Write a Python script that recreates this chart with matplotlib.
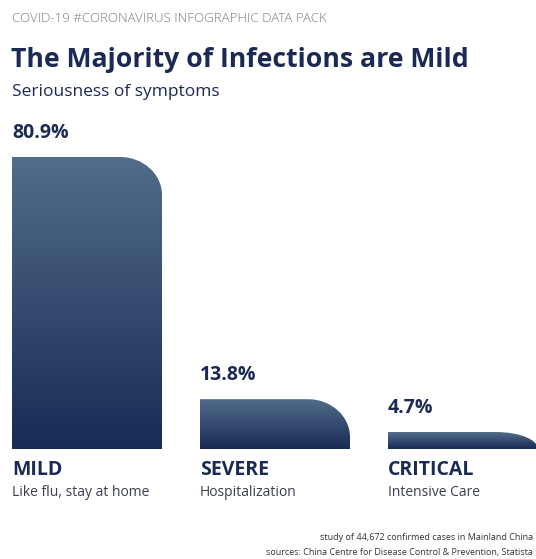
import numpy as np
import matplotlib.pyplot as plt
from matplotlib.path import Path
from matplotlib.patches import PathPatch
from matplotlib.colors import LinearSegmentedColormap

categories = ['MILD', 'SEVERE', 'CRITICAL']
descriptions = ['Like flu, stay at home', 'Hospitalization', 'Intensive Care']
shares = [80.9, 13.8, 4.7]

NAVY = '#1b2a55'
W, H = 536, 559
plt.rcParams['font.family'] = ['Open Sans', 'DejaVu Sans']

fig = plt.figure(figsize=(W / 100, H / 100), dpi=100)
fig.patch.set_facecolor('white')

# axes: bars sit on pixel row 449 (from top), tallest bar 292 px high
ax_left, ax_bottom, ax_w, ax_h = 12, H - 449, W - 12, 292
ax = fig.add_axes([ax_left / W, ax_bottom / H, ax_w / W, ax_h / H])
step_px = 188.0
ax.axis('off')

bar_w = 150 / step_px
rx = 42 / step_px
ry_full = 38 * max(shares) / ax_h
cmap = LinearSegmentedColormap.from_list('bar', ['#182b55', '#526c8a'])
k = 0.5523

def bar_path(x0, w, h):
    ry = min(ry_full, h)
    x1 = x0 + w
    verts = [(x0, 0), (x0, h), (x1 - rx, h),
             (x1 - rx + k * rx, h), (x1, h - ry + k * ry), (x1, h - ry),
             (x1, 0), (x0, 0)]
    codes = [Path.MOVETO, Path.LINETO, Path.LINETO,
             Path.CURVE4, Path.CURVE4, Path.CURVE4,
             Path.LINETO, Path.CLOSEPOLY]
    return Path(verts, codes)

grad = np.linspace(0, 1, 256).reshape(-1, 1)
for i, (cat, desc, v) in enumerate(zip(categories, descriptions, shares)):
    x0 = i
    patch = PathPatch(bar_path(x0, bar_w, v), facecolor='none', edgecolor='none')
    ax.add_patch(patch)
    im = ax.imshow(grad, cmap=cmap, origin='lower', aspect='auto',
                   extent=(x0, x0 + bar_w, 0, v), zorder=2)
    im.set_clip_path(patch)
    ax.annotate(f'{v}%', (x0, v), xytext=(0, 10), textcoords='offset points',
                ha='left', va='bottom', fontsize=14, fontweight='bold',
                color=NAVY, annotation_clip=False)
    ax.annotate(cat, (x0, 0), xytext=(0, -8), textcoords='offset points',
                ha='left', va='top', fontsize=14, fontweight='bold',
                color=NAVY, annotation_clip=False)
    ax.annotate(desc, (x0, 0), xytext=(0, -26), textcoords='offset points',
                ha='left', va='top', fontsize=10, color='#3a3f4f',
                annotation_clip=False)

ax.set_xlim(0, ax_w / step_px)
ax.set_ylim(0, max(shares))

def px(x, y):
    return x / W, 1 - y / H

fig.text(*px(12, 18), 'COVID-19 #CORONAVIRUS INFOGRAPHIC DATA PACK',
         fontsize=9.5, color='#7a7a7a', va='center', ha='left', fontweight='light')
fig.text(*px(11, 60), 'The Majority of Infections are Mild',
         fontsize=19.2, fontweight='bold', color=NAVY, va='center', ha='left')
fig.text(*px(12, 92), 'Seriousness of symptoms',
         fontsize=12.5, color=NAVY, va='center', ha='left')
fig.text(*px(533, 537), 'study of 44,672 confirmed cases in Mainland China',
         fontsize=6.5, color='#333333', va='center', ha='right')
fig.text(*px(533, 553), 'sources: China Centre for Disease Control & Prevention, Statista',
         fontsize=6.5, color='#333333', va='center', ha='right')

fig.savefig('out.png', dpi=100, facecolor='white')
